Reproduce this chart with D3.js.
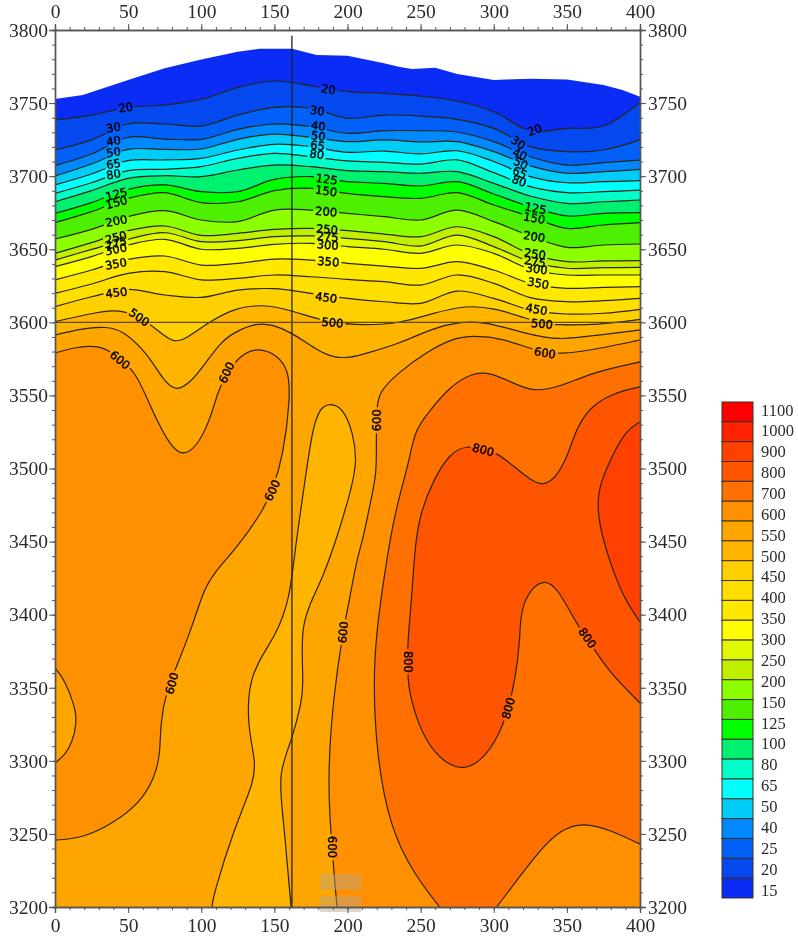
<!DOCTYPE html>
<html>
<head>
<meta charset="utf-8">
<script src="https://cdn.jsdelivr.net/npm/d3@7"></script>
<style>
  html, body { margin: 0; padding: 0; background: #fff; }
  svg { display: block; filter: blur(0.5px); }
  .axis text, .legend text { font-family: "Liberation Serif", serif; fill: #2a2a2a; }
  .axis path, .axis line { stroke: #555; }
  .clabel { font-family: "DejaVu Sans", sans-serif; font-size: 11.5px; fill: #000; stroke: #000; stroke-width: 0.4px; text-anchor: middle; dominant-baseline: central; }
</style>
</head>
<body>
<svg id="chart" width="798" height="937"></svg>
<script>
// contour levels, and the colour of each band starting below the first level
var contourLevels = [20, 30, 40, 50, 65, 80, 100, 125, 150, 200, 250, 275, 300, 350, 400, 450, 500, 550, 600, 700, 800, 900, 1000, 1100];
var bandColors = ['#0a2cf5', '#0448f0', '#0060f8', '#0088ff', '#00ccf8', '#00ffff', '#00ffc8', '#00f070', '#00ff00', '#4cf000', '#8cff00', '#c0f000', '#e0f800', '#ffff00', '#ffe800', '#ffdf00', '#ffd000', '#ffb400', '#ffa500', '#ff9000', '#ff7000', '#ff5500', '#ff4000', '#ff2200', '#ff0000'];

// the printed scale has its own numbers, one fewer than the boxes
var legendLabels = [1100, 1000, 900, 800, 700, 600, 550, 500, 450, 400, 350, 300, 250, 200, 150, 125, 100, 80, 65, 50, 40, 25, 20, 15];

var xTicks = [0, 50, 100, 150, 200, 250, 300, 350, 400];
var yTicks = [3200, 3250, 3300, 3350, 3400, 3450, 3500, 3550, 3600, 3650, 3700, 3750, 3800];

// distance along the profile for the layered part of the section
var stations = [0, 25, 50, 75, 100, 125, 150, 175, 200, 225, 250, 275, 300, 325, 350, 375, 400];

// contour elevations at each station
var c20 = [3738.4, 3741.8, 3747.1, 3748.7, 3752.6, 3760.8, 3765.1, 3761.9, 3757.8, 3756.7, 3754.8, 3751.4, 3744.1, 3731.1, 3732.7, 3734.3, 3750.3];
var c30 = [3717.9, 3724.8, 3735.7, 3735.7, 3734.3, 3741.8, 3747.1, 3746.4, 3739.6, 3741.8, 3741.1, 3738.9, 3732.7, 3720.2, 3716.8, 3717.9, 3724.8];
var c40 = [3707.2, 3715.2, 3726.6, 3725.4, 3725.2, 3732.0, 3735.7, 3733.9, 3729.3, 3731.1, 3731.1, 3730.2, 3723.6, 3713.3, 3707.6, 3709.2, 3711.0];
var c50 = [3700.1, 3708.3, 3718.3, 3718.3, 3718.6, 3725.2, 3728.8, 3726.6, 3723.6, 3724.8, 3723.4, 3723.6, 3716.8, 3707.0, 3702.0, 3703.1, 3704.7];
var c65 = [3694.0, 3701.5, 3710.6, 3711.1, 3712.2, 3717.9, 3721.8, 3720.2, 3716.3, 3717.2, 3715.2, 3717.4, 3710.0, 3699.7, 3695.5, 3696.2, 3696.9];
var c80 = [3688.2, 3695.5, 3703.8, 3704.7, 3706.5, 3712.2, 3715.6, 3713.3, 3710.4, 3709.5, 3708.3, 3711.1, 3702.4, 3692.8, 3688.7, 3689.4, 3690.5];
var c100 = [3682.5, 3690.1, 3698.5, 3700.3, 3699.7, 3704.2, 3707.6, 3706.5, 3703.8, 3703.1, 3702.0, 3703.1, 3695.1, 3686.4, 3681.4, 3682.5, 3683.7];
var c125 = [3674.5, 3681.9, 3691.0, 3694.0, 3689.4, 3689.4, 3697.8, 3699.7, 3696.2, 3695.1, 3693.3, 3696.2, 3687.8, 3679.1, 3672.8, 3674.5, 3675.0];
var c150 = [3668.2, 3675.7, 3684.8, 3688.7, 3681.9, 3682.5, 3690.1, 3691.7, 3688.2, 3686.0, 3684.8, 3688.7, 3680.3, 3672.3, 3664.3, 3666.6, 3668.2];
var c200 = [3657.0, 3663.6, 3672.3, 3676.4, 3670.0, 3668.9, 3676.8, 3676.8, 3674.5, 3672.3, 3670.0, 3676.8, 3668.9, 3659.1, 3651.3, 3652.9, 3653.6];
var c250 = [3647.2, 3654.5, 3662.7, 3665.9, 3659.5, 3660.9, 3663.6, 3664.3, 3662.7, 3660.4, 3658.6, 3665.4, 3658.6, 3646.8, 3641.5, 3642.0, 3642.2];
var c275 = [3642.6, 3649.9, 3656.8, 3661.3, 3655.2, 3655.9, 3658.6, 3659.1, 3657.5, 3655.2, 3652.2, 3659.7, 3651.8, 3641.5, 3637.0, 3637.4, 3637.6];
var c300 = [3638.1, 3645.0, 3652.9, 3656.8, 3650.0, 3650.6, 3653.4, 3654.0, 3651.8, 3650.0, 3647.2, 3652.9, 3647.2, 3636.3, 3632.4, 3632.4, 3632.4];
var c350 = [3629.0, 3635.8, 3643.1, 3645.4, 3639.2, 3640.4, 3643.3, 3642.6, 3640.4, 3638.5, 3636.9, 3641.5, 3635.8, 3626.7, 3623.3, 3623.9, 3624.4];
var c400 = [3619.8, 3626.2, 3633.5, 3634.7, 3629.0, 3630.1, 3632.4, 3631.2, 3629.4, 3627.8, 3625.5, 3632.4, 3626.7, 3616.9, 3614.1, 3614.8, 3616.4];
var c450 = [3610.7, 3617.5, 3622.6, 3618.7, 3617.1, 3622.1, 3623.0, 3619.8, 3616.4, 3614.1, 3613.0, 3621.4, 3616.4, 3608.4, 3605.7, 3606.2, 3608.9];

// ground surface and the contours that do not fit the stations, as [distance, elevation]
var terrain = [[0, 3752.8], [19, 3755.5], [50, 3765.8], [75, 3773.8], [100, 3779.9], [125, 3785.2], [140, 3787.2], [162, 3787.2], [179, 3782.9], [200, 3782.4], [225, 3777.2], [235, 3774.9], [244, 3773.3], [260, 3774.2], [275, 3769.9], [300, 3765.8], [325, 3766.7], [350, 3766.2], [375, 3762.4], [388, 3759], [400, 3754.4]];
var c500 = [[0, 3600.5], [20, 3605], [42, 3609.6], [58, 3603.9], [70, 3594.8], [81, 3585.6], [90, 3589], [104, 3599.3], [122, 3609.6], [142, 3612.5], [161, 3608.4], [188, 3599.3], [212, 3598], [236, 3599.3], [258, 3606.1], [281, 3611.8], [301, 3609.6], [322, 3602.7], [333, 3599.3], [344, 3598.2], [371, 3598.2], [400, 3602]];
var c550 = [[0, 3591.3], [19, 3596], [35, 3597], [46, 3594.8], [63, 3579], [74, 3560.5], [83, 3552], [94, 3560.5], [101, 3569.5], [113, 3586], [122, 3593], [138, 3599.8], [149, 3598.2], [161, 3593.6], [179, 3581], [190, 3576], [202, 3575.6], [213, 3578.8], [236, 3585.6], [258, 3596], [278, 3600.5], [294, 3600.5], [321.5, 3592.5], [344, 3587.5], [371, 3591.3], [400, 3594.8]];
var c550lens = [[107.4, 3200], [108, 3207], [122, 3252.7], [136.8, 3287], [136.8, 3300.6], [132, 3323], [132, 3348.5], [138, 3367], [152, 3387.5], [160.7, 3412], [164, 3444], [171, 3492], [175.8, 3526], [181, 3541.4], [188, 3544.8], [197, 3541.4], [204, 3524], [206.6, 3503.8], [201.8, 3483], [192.9, 3453], [183.3, 3425.8], [173, 3405], [169, 3389.5], [169, 3371], [169.6, 3353], [169, 3341.6], [162, 3314], [152.5, 3291.7], [156, 3261.6], [159.4, 3223], [161.4, 3200]];
var c600left = [[0, 3579], [15, 3583.3], [31, 3584.5], [44.5, 3575.6], [56, 3565], [67, 3538], [79, 3515], [87.7, 3508.6], [97, 3515], [106, 3533], [111.6, 3553.7], [117.5, 3565], [126.6, 3577.6], [139, 3583], [152, 3577.6], [159.6, 3567.4], [161, 3549], [156, 3508], [148.6, 3485], [142.5, 3471.6], [124.6, 3446], [108, 3428], [101, 3415], [94.6, 3394], [83, 3364], [76.4, 3348.5], [72, 3326], [72, 3305], [68.4, 3289], [58, 3271], [40, 3257.5], [19, 3247], [0, 3245.8]];
var c600bump = [[0, 3363.6], [6.8, 3355], [13.7, 3337], [15, 3326], [11.6, 3312], [6.8, 3304], [0, 3298.5]];
var c600right = [[400, 3587.9], [372, 3582], [345.4, 3577.7], [327, 3581], [306.6, 3589], [286, 3591], [272, 3589], [254, 3579.7], [234, 3565], [221, 3551.7], [220, 3540], [219.6, 3517.5], [220, 3497], [215.5, 3476], [210, 3449], [206.6, 3439.5], [200.4, 3405], [197, 3389.5], [190, 3341.6], [186.7, 3291.7], [188, 3259.5], [189.5, 3241], [191.5, 3213.7], [192.9, 3200]];
var c700a = [[400, 3572.9], [368, 3566], [345.4, 3555.8], [327, 3552.4], [313, 3558.5], [297.5, 3566], [284, 3565], [270, 3555.8], [256.5, 3540], [246, 3526], [242.8, 3508], [236, 3483], [230.5, 3460], [224.4, 3421.7], [220, 3389.5], [217.5, 3355], [220, 3302.6], [229, 3254.7], [245, 3223], [263, 3200]];
var c700b = [[302, 3200], [316, 3218.5], [331.7, 3239], [345.4, 3252.7], [361, 3258], [379.6, 3252.7], [400, 3243]];
var c800 = [[400, 3555.8], [381.7, 3551.7], [366, 3542], [357, 3528.4], [352, 3512.7], [343.4, 3494], [333.8, 3488], [325, 3492], [311, 3503.8], [302, 3510.6], [292.8, 3512.7], [281.8, 3516], [270, 3510.6], [258.6, 3492], [249.7, 3469.6], [246, 3446], [244, 3412], [240.8, 3378], [241.5, 3367.7], [240.8, 3353], [247.6, 3326], [258.6, 3305], [277, 3292], [292.8, 3300.6], [304.4, 3319], [310, 3336], [314.6, 3355], [318, 3382.7], [318, 3398.4], [322.8, 3415], [333.8, 3424.4], [343.4, 3419], [357.7, 3391.6], [364, 3384], [377.6, 3362], [400, 3339.6]];
var c900 = [[400, 3531.8], [391, 3526.4], [381.7, 3510.6], [372.8, 3490], [370.7, 3476.4], [372.8, 3458], [379.6, 3435.4], [388.5, 3412], [400, 3395]];

// contour labels: text, distance, elevation, rotation
var contourLabels = [
  ['20', 48.3, 3746.9, -8], ['30', 40, 3733.2, -10], ['40', 40, 3724, -10], ['50', 40, 3716.3, -10], ['65', 40, 3708.3, -10], ['80', 40, 3701.3, -10],
  ['125', 42, 3687.6, -15], ['150', 42, 3682, -15], ['200', 42, 3669.3, -10], ['250', 41.7, 3658, -15], ['275', 41.7, 3654, -15], ['300', 41.7, 3650, -12],
  ['350', 41.7, 3640, -10], ['450', 42, 3620.3, -7], ['500', 57.7, 3603.4, 35], ['600', 44.5, 3574.2, 40], ['600', 117.4, 3565.6, -65], ['600', 148.6, 3485, -65],
  ['600', 80, 3353, -75], ['600', 189.5, 3241, 90], ['600', 220, 3533, -90], ['600', 197, 3388, -85], ['600', 335, 3579, 10],
  ['800', 292.8, 3512.7, 15], ['800', 364, 3384, 55], ['800', 241.5, 3367.7, 90], ['800', 310, 3336, -75],
  ['20', 187, 3759.4, 10], ['30', 179.4, 3744.8, 8], ['40', 180, 3734.3, 8], ['50', 180, 3727.5, 8], ['65', 179.5, 3720.9, 8], ['80', 179, 3714.9, 8],
  ['125', 185.8, 3697.8, 8], ['150', 185.4, 3689.8, 8], ['200', 185.4, 3675.7, 5], ['250', 186, 3663.6, 5], ['275', 186.5, 3658.6, 5], ['300', 186.5, 3652.9, 5],
  ['350', 186.9, 3641.5, 5], ['450', 185.4, 3616.9, 8], ['500', 189.7, 3599.8, 5],
  ['20', 328, 3731.6, -20], ['30', 316.7, 3722.9, 35], ['40', 317.8, 3714.9, 25], ['50', 318.5, 3708.8, 25], ['65', 317.8, 3702.4, 25], ['80', 317.4, 3696.7, 20],
  ['125', 328.6, 3678, 10], ['150', 327.7, 3671.2, 10], ['200', 327.7, 3658.6, 8], ['250', 328.2, 3646.8, 8], ['275', 328.2, 3641.5, 8], ['300', 329.3, 3636.5, 8],
  ['350', 330.4, 3626.7, 10], ['450', 329.3, 3608.9, 10], ['500', 333, 3598.9, 5]
];

var crossX = 162;
var crossY = 3600;

var svg = d3.select('#chart');
var margin = { left: 55, top: 30, right: 158, bottom: 30 };
var width = 798 - margin.left - margin.right;
var height = 937 - margin.top - margin.bottom;

var x = d3.scaleLinear().domain([0, 400]).range([margin.left, margin.left + width]);
var y = d3.scaleLinear().domain([3200, 3800]).range([margin.top + height, margin.top]);

var band = d3.scaleThreshold().domain(contourLevels).range(bandColors);

function fromStations(elev) {
  return stations.map(function(s, i) { return [s, elev[i]]; });
}

var stationLine = d3.line()
  .x(function(d) { return x(d[0]); })
  .y(function(d) { return y(d[1]); })
  .curve(d3.curveCatmullRom.alpha(0.5));

// the hand read lower contours have closer points, basis keeps them from kinking
var freeLine = d3.line()
  .x(function(d) { return x(d[0]); })
  .y(function(d) { return y(d[1]); })
  .curve(d3.curveBasis);

var straight = d3.line()
  .x(function(d) { return x(d[0]); })
  .y(function(d) { return y(d[1]); });

var toBottom = [[400, 3200], [0, 3200]];

// painted low level to high, each one over the last
var fills = [
  { level: 20, pts: fromStations(c20), curve: stationLine, close: toBottom },
  { level: 30, pts: fromStations(c30), curve: stationLine, close: toBottom },
  { level: 40, pts: fromStations(c40), curve: stationLine, close: toBottom },
  { level: 50, pts: fromStations(c50), curve: stationLine, close: toBottom },
  { level: 65, pts: fromStations(c65), curve: stationLine, close: toBottom },
  { level: 80, pts: fromStations(c80), curve: stationLine, close: toBottom },
  { level: 100, pts: fromStations(c100), curve: stationLine, close: toBottom },
  { level: 125, pts: fromStations(c125), curve: stationLine, close: toBottom },
  { level: 150, pts: fromStations(c150), curve: stationLine, close: toBottom },
  { level: 200, pts: fromStations(c200), curve: stationLine, close: toBottom },
  { level: 250, pts: fromStations(c250), curve: stationLine, close: toBottom },
  { level: 275, pts: fromStations(c275), curve: stationLine, close: toBottom },
  { level: 300, pts: fromStations(c300), curve: stationLine, close: toBottom },
  { level: 350, pts: fromStations(c350), curve: stationLine, close: toBottom },
  { level: 400, pts: fromStations(c400), curve: stationLine, close: toBottom },
  { level: 450, pts: fromStations(c450), curve: stationLine, close: toBottom },
  { level: 500, pts: c500, curve: freeLine, close: toBottom },
  { level: 550, pts: c550, curve: freeLine, close: toBottom },
  { level: 500, pts: c550lens, curve: freeLine, close: [] },
  { level: 600, pts: c600left, curve: freeLine, close: [] },
  { level: 550, pts: c600bump, curve: freeLine, close: [] },
  { level: 600, pts: c600right, curve: freeLine, close: [[400, 3200]] },
  { level: 700, pts: c700a, curve: freeLine, close: [], next: c700b },
  { level: 800, pts: c800, curve: freeLine, close: [] },
  { level: 900, pts: c900, curve: freeLine, close: [] }
];

var plot = svg.append('g').attr('class', 'plot');

plot.append('path')
  .attr('d', straight(terrain.concat(toBottom)) + 'Z')
  .attr('fill', band(15));

plot.selectAll('path.fill')
  .data(fills)
  .enter().append('path')
  .attr('class', 'fill')
  .attr('fill', function(d) { return band(d.level); })
  .attr('d', function(d) {
    var path = d.curve(d.pts);
    if (d.next) {
      path += d.curve(d.next).replace('M', 'L');
    }
    if (d.close.length) {
      path += straight(d.close).replace('M', 'L');
    }
    return path + 'Z';
  });

// lines get cut where a label sits
var mask = svg.append('defs').append('mask')
  .attr('id', 'labelGaps')
  .attr('maskUnits', 'userSpaceOnUse')
  .attr('x', 0).attr('y', 0).attr('width', 798).attr('height', 937);
mask.append('rect').attr('width', 798).attr('height', 937).attr('fill', '#fff');
mask.selectAll('rect.gap')
  .data(contourLabels)
  .enter().append('rect')
  .attr('class', 'gap')
  .attr('fill', '#000')
  .attr('x', function(d) { return -d[0].length * 4 - 1; })
  .attr('y', -4)
  .attr('width', function(d) { return d[0].length * 8 + 2; })
  .attr('height', 8)
  .attr('transform', function(d) {
    return 'translate(' + x(d[1]) + ',' + y(d[2]) + ') rotate(' + d[3] + ')';
  });

var lines = plot.append('g')
  .attr('mask', 'url(#labelGaps)')
  .attr('fill', 'none')
  .attr('stroke', '#2b2417')
  .attr('stroke-width', 1.2);

lines.selectAll('path')
  .data(fills)
  .enter().append('path')
  .attr('d', function(d) {
    return d.curve(d.pts) + (d.next ? d.curve(d.next) : '');
  });

// cross lines of the section
plot.append('line')
  .attr('x1', x(crossX)).attr('x2', x(crossX))
  .attr('y1', y(3796)).attr('y2', y(3200))
  .attr('stroke', '#222').attr('stroke-width', 1.3);
plot.append('line')
  .attr('x1', x(0)).attr('x2', x(400))
  .attr('y1', y(crossY)).attr('y2', y(crossY))
  .attr('stroke', '#5a4a1e').attr('stroke-width', 1.3);

plot.selectAll('text.clabel')
  .data(contourLabels)
  .enter().append('text')
  .attr('class', 'clabel')
  .attr('transform', function(d) {
    return 'translate(' + x(d[1]) + ',' + y(d[2]) + ') rotate(' + d[3] + ')';
  })
  .text(function(d) { return d[0]; });

// watermark tiles near the bottom
var stamps = [874, 896];
plot.selectAll('rect.stamp')
  .data(stamps)
  .enter().append('rect')
  .attr('class', 'stamp')
  .attr('x', 320).attr('width', 41)
  .attr('y', function(d) { return d; })
  .attr('height', 16)
  .attr('fill', '#b9a68c')
  .attr('opacity', 0.45);

// axes, minor ticks every 10 under the labelled ones
var minorX = d3.range(0, 401, 10);
var minorY = d3.range(3200, 3801, 10);

function addAxis(axisFn, scale, majors, minors, tx, ty, pad) {
  var g = svg.append('g').attr('class', 'axis').attr('transform', 'translate(' + tx + ',' + ty + ')');
  g.append('g').call(axisFn(scale).tickValues(minors).tickSize(3).tickFormat(''));
  g.append('g').call(axisFn(scale).tickValues(majors).tickSize(6).tickPadding(pad).tickFormat(d3.format('d')));
  g.selectAll('text').style('font-size', '19.5px');
  g.selectAll('.domain').attr('stroke-width', 1.4);
  return g;
}

addAxis(d3.axisTop, x, xTicks, minorX, 0, y(3800), 6);
addAxis(d3.axisBottom, x, xTicks, minorX, 0, y(3200), 5);
addAxis(d3.axisLeft, y, yTicks, minorY, x(0), 0, 1);
addAxis(d3.axisRight, y, yTicks, minorY, x(400), 0, 2);

// legend, red on top
var legendBoxes = bandColors.slice().reverse();
var boxY = d3.scaleBand().domain(d3.range(legendBoxes.length)).range([402, 898]);
var labelY = d3.scalePoint().domain(legendLabels).range([410, 890]);
var legend = svg.append('g').attr('class', 'legend');

legend.selectAll('rect')
  .data(legendBoxes)
  .enter().append('rect')
  .attr('x', 722).attr('width', 31)
  .attr('y', function(d, i) { return boxY(i); })
  .attr('height', boxY.bandwidth())
  .attr('fill', function(d) { return d; })
  .attr('stroke', '#3a3020')
  .attr('stroke-width', 1);

legend.selectAll('text')
  .data(legendLabels)
  .enter().append('text')
  .attr('x', 761)
  .attr('y', function(d) { return labelY(d); })
  .attr('dominant-baseline', 'central')
  .style('font-size', '16.5px')
  .text(function(d) { return d; });
</script>
</body>
</html>
